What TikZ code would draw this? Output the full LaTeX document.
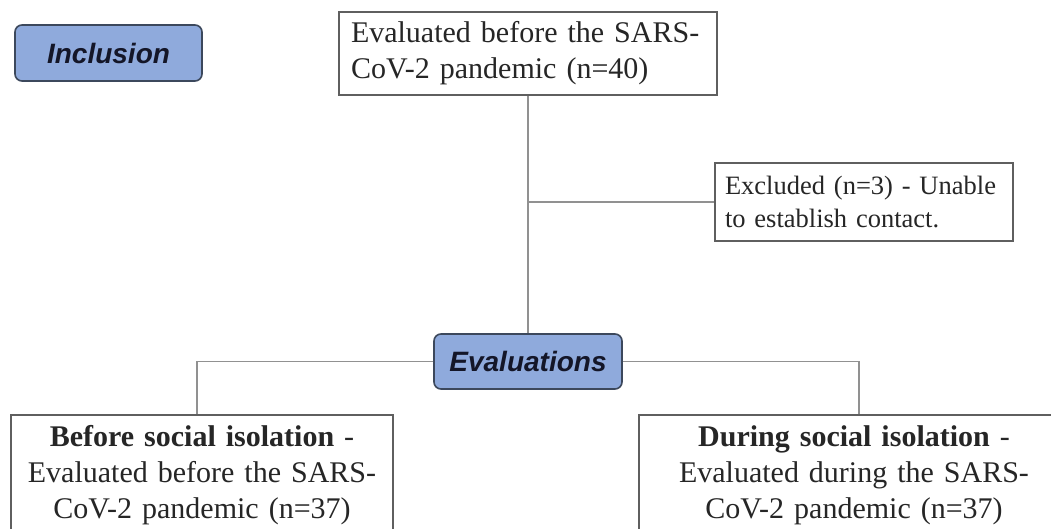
\documentclass[tikz,border=0pt]{standalone}
\usepackage{fontspec}
\setmainfont{Liberation Serif}
\newfontfamily\arialf{Liberation Sans}
\definecolor{bluefill}{RGB}{143,170,220}
\definecolor{blueedge}{RGB}{60,72,92}
\definecolor{navytext}{RGB}{20,22,40}
\definecolor{boxedge}{RGB}{95,95,95}
\definecolor{linegray}{RGB}{145,145,145}
\tikzset{
  phase/.style={draw=blueedge, line width=1.6pt, fill=bluefill, rounded corners=7pt,
    text=navytext, font=\arialf\bfseries\itshape\fontsize{28}{32}\selectfont, inner sep=0pt},
  infobox/.style={draw=boxedge, line width=1.5pt, fill=white, inner xsep=12pt, inner ysep=0pt,
    font=\fontsize{30}{36}\selectfont, text=black!85},
  conn/.style={draw=linegray, line width=1.6pt}
}
\begin{document}
\begin{tikzpicture}[x=1pt, y=-1pt]
\useasboundingbox (0,0) rectangle (1051,528);
\clip (0,0) rectangle (1051,528);
\fill[white] (0,0) rectangle (1051,528);

\node[phase, minimum width=187pt, minimum height=56pt] (incl) at (108.5,53) {Inclusion};

\node[infobox, text width=354pt, align=left, minimum height=83pt] (top) at (528,53.5)
  {\hyphenpenalty=10000 Evaluated before the SARS-\\CoV-2 pandemic (n=40)};

\node[infobox, font=\fontsize{26.5}{33}\selectfont, inner xsep=10pt, text width=278pt, align=left, minimum height=78pt] (excl) at (864,202)
  {\hyphenpenalty=10000 Excluded (n=3) - Unable\\to establish contact.};

\node[phase, minimum width=188pt, minimum height=55pt] (eval) at (528,361.5) {Evaluations};

\node[infobox, anchor=north, text width=358pt, align=center, inner ysep=10.5pt] (left) at (202,414)
  {\textbf{Before social isolation} -\\Evaluated before the SARS-\\CoV-2 pandemic (n=37)};

\node[infobox, anchor=north, text width=406pt, align=center, inner ysep=10.5pt] (right) at (854,414)
  {\textbf{During social isolation} -\\Evaluated during the SARS-\\CoV-2 pandemic (n=37)};

\coordinate (j) at (528,202);
\coordinate (lt) at (197,414);
\coordinate (rt) at (859,414);

\draw[conn] (top.south) -- (eval.north);
\draw[conn] (j) -- (excl.west);
\draw[conn] (eval.west) -| (lt);
\draw[conn] (eval.east) -| (rt);
\end{tikzpicture}
\end{document}
